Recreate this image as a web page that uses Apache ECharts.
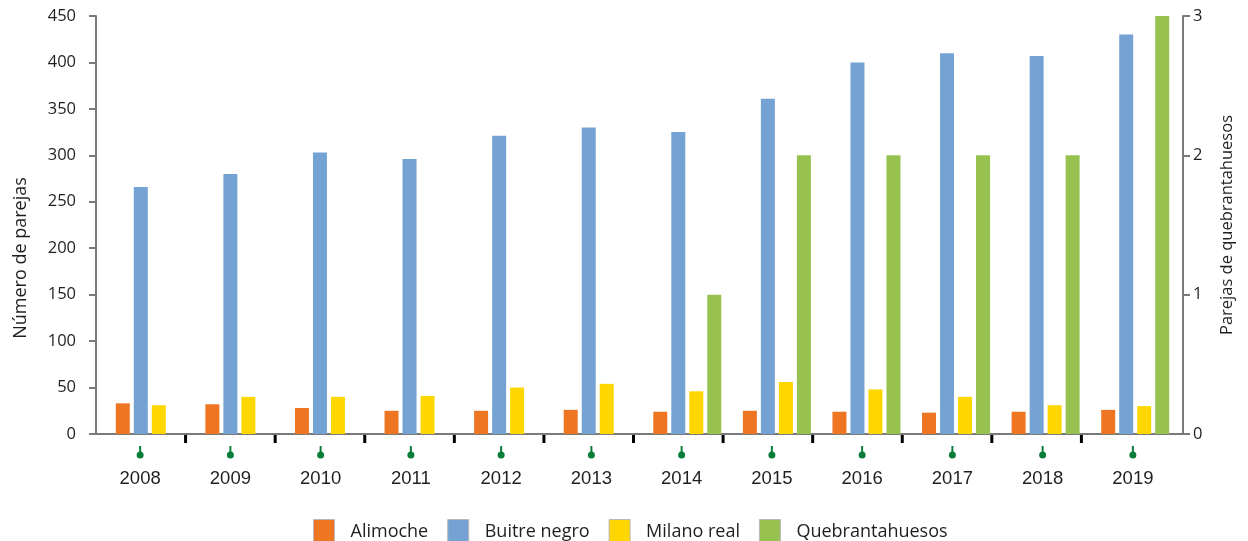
<!DOCTYPE html>
<html>
<head>
<meta charset="utf-8">
<script src="https://cdn.jsdelivr.net/npm/echarts@6/dist/echarts.min.js"></script>
<style>
  html, body { margin: 0; padding: 0; background: #ffffff; }
  #chart { width: 1248px; height: 541px; }
</style>
</head>
<body>
<div id="chart"></div>
<script>
// Breeding pairs of scavenger birds per year
const years = ['2008', '2009', '2010', '2011', '2012', '2013', '2014', '2015', '2016', '2017', '2018', '2019'];
const alimoche = [33, 32, 28, 25, 25, 26, 24, 25, 24, 23, 24, 26];
const buitreNegro = [266, 280, 303, 296, 321, 330, 325, 361, 400, 410, 407, 430];
const milanoReal = [31, 40, 40, 41, 50, 54, 46, 56, 48, 40, 31, 30];
// Bearded vulture pairs, read on the right axis (none recorded before 2014)
const quebrantahuesos = [null, null, null, null, null, null, 1, 2, 2, 2, 2, 3];
const leftTicks = { min: 0, max: 450, interval: 50 };
const rightTicks = { min: 0, max: 3, interval: 1 };

const FONT = '"Open Sans", "Noto Sans", sans-serif';
const AXIS_GREY = '#7a7a7a';
const TEXT = '#1f1f1f';

const chart = echarts.init(document.getElementById('chart'), null, { renderer: 'canvas' });

const barBase = { type: 'bar', xAxisIndex: 0, barWidth: 14, barGap: '28.6%', silent: true };

const option = {
  animation: false,
  backgroundColor: '#ffffff',
  legend: {
    data: ['Alimoche', 'Buitre negro', 'Milano real', 'Quebrantahuesos'],
    left: 308,
    top: 514,
    itemWidth: 21,
    itemHeight: 24,
    itemGap: 19,
    icon: 'rect',
    itemStyle: { borderColor: '#b8b8b8', borderWidth: 1 },
    textStyle: { fontFamily: FONT, fontSize: 18, color: TEXT, padding: [4, 0, 0, 11] }
  },
  grid: [
    // bars
    { left: 96, right: 77, top: 16, bottom: 107 },
    // year labels and markers
    { left: 95, right: 70, top: 16, bottom: 107 },
    // baseline
    { left: 96, right: 65, top: 16, bottom: 107 }
  ],
  xAxis: [
    {
      type: 'category', gridIndex: 0, data: years,
      axisLine: { show: false }, axisTick: { show: false }, axisLabel: { show: false }
    },
    {
      type: 'category', gridIndex: 1, data: years,
      axisLine: { show: false }, axisTick: { show: false },
      axisLabel: { margin: 35, fontFamily: '"Liberation Sans", Arial, sans-serif', fontSize: 18.5, color: TEXT }
    },
    {
      type: 'category', gridIndex: 2, data: years,
      axisLine: { show: true, lineStyle: { color: AXIS_GREY, width: 2 } },
      axisTick: { show: false }, axisLabel: { show: false }
    }
  ],
  yAxis: [
    {
      type: 'value', gridIndex: 0, position: 'left',
      min: leftTicks.min, max: leftTicks.max, interval: leftTicks.interval,
      name: 'Número de parejas', nameLocation: 'middle', nameGap: 66, nameRotate: 90,
      nameTextStyle: { fontFamily: FONT, fontSize: 18, color: TEXT, padding: [0, 66, 0, 0] },
      axisLine: { show: true, lineStyle: { color: AXIS_GREY, width: 2 } },
      axisTick: { show: true, length: 7, lineStyle: { color: AXIS_GREY, width: 2 } },
      axisLabel: { margin: 20, fontFamily: FONT, fontSize: 16.5, color: TEXT },
      splitLine: { show: false }
    },
    {
      type: 'value', gridIndex: 0, position: 'right', offset: 12,
      min: rightTicks.min, max: rightTicks.max, interval: rightTicks.interval,
      name: 'Parejas de quebrantahuesos', nameLocation: 'middle', nameGap: 36, nameRotate: 90,
      nameTextStyle: { fontFamily: FONT, fontSize: 16.5, color: TEXT },
      axisLine: { show: true, lineStyle: { color: AXIS_GREY, width: 2 } },
      axisTick: { show: true, length: 7, lineStyle: { color: AXIS_GREY, width: 2 } },
      axisLabel: { margin: 10, fontFamily: FONT, fontSize: 16.5, color: TEXT },
      splitLine: { show: false }
    },
    { type: 'value', gridIndex: 1, min: 0, max: 1, show: false },
    { type: 'value', gridIndex: 2, min: 0, max: 1, show: false }
  ],
  series: [
    // empty leading slot: each year's group sits to the right of its category centre
    Object.assign({}, barBase, { yAxisIndex: 0, data: years.map(() => null) }),
    Object.assign({}, barBase, { name: 'Alimoche', yAxisIndex: 0, data: alimoche, itemStyle: { color: '#ee7623' } }),
    Object.assign({}, barBase, { name: 'Buitre negro', yAxisIndex: 0, data: buitreNegro, itemStyle: { color: '#74a3d3' } }),
    Object.assign({}, barBase, { name: 'Milano real', yAxisIndex: 0, data: milanoReal, itemStyle: { color: '#ffd700' } }),
    Object.assign({}, barBase, { name: 'Quebrantahuesos', yAxisIndex: 1, data: quebrantahuesos, itemStyle: { color: '#97c24f' } }),
    {
      // black separators between year groups
      type: 'custom', xAxisIndex: 0, yAxisIndex: 0, silent: true, clip: false,
      data: years.slice(0, -1).map((y) => [y]),
      encode: { x: 0 },
      renderItem: function (params, api) {
        const p = api.coord([api.value(0), 0]);
        const half = api.size([1, 0])[0] / 2;
        return {
          type: 'rect',
          shape: { x: p[0] + half - 1.5, y: p[1] + 1, width: 3, height: 8 },
          style: { fill: '#000000' }
        };
      }
    },
    {
      // green pin markers under each year
      type: 'custom', xAxisIndex: 1, yAxisIndex: 2, silent: true, clip: false,
      data: years.map((y) => [y]),
      encode: { x: 0 },
      renderItem: function (params, api) {
        const p = api.coord([api.value(0), 0]);
        return {
          type: 'group',
          children: [
            { type: 'rect', shape: { x: p[0] - 1, y: p[1] + 12, width: 2, height: 9 }, style: { fill: '#0b7d3a' } },
            { type: 'circle', shape: { cx: p[0], cy: p[1] + 21, r: 3.5 }, style: { fill: '#0b7d3a' } }
          ]
        };
      }
    }
  ]
};

chart.setOption(option);
</script>
</body>
</html>
